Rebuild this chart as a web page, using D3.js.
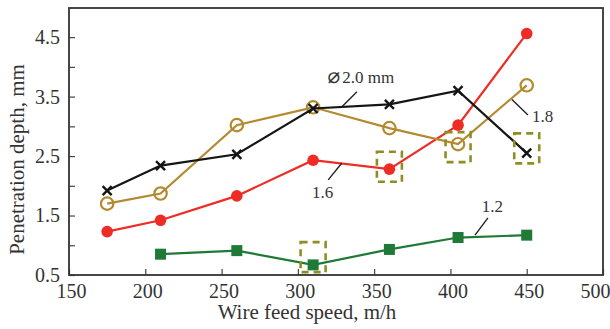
<!DOCTYPE html>
<html><head><meta charset="utf-8">
<script src="https://cdn.jsdelivr.net/npm/d3@7"></script>
<style>body{margin:0;background:#fff}svg{display:block}text{font-family:"Liberation Serif","Times New Roman",serif;fill:#333}</style>
</head><body><svg id="c" width="610" height="329"></svg>
<script>
const speeds = [175, 210, 260, 310, 360, 405, 450];
const d20 = [1.92, 2.34, 2.53, 3.30, 3.37, 3.60, 2.55];
const d18 = [1.70, 1.87, 3.02, 3.32, 2.97, 2.70, 3.69];
const d16 = [1.23, 1.42, 1.83, 2.43, 2.28, 3.02, 4.56];
const speeds12 = [210, 260, 310, 360, 405, 450];
const d12 = [0.85, 0.91, 0.67, 0.93, 1.13, 1.17];
const xTicks = [150, 200, 250, 300, 350, 400, 450, 500];
const yTicks = [0.5, 1.5, 2.5, 3.5, 4.5];
const yMinor = [1.0, 2.0, 3.0, 4.0];
const boxX = [310, 360, 405, 450];
const boxY = [0.80, 2.32, 2.65, 2.63];
// annotations: label, text pos, leader start, leader end (data units)
const notes = [
  {t:"2.0 mm", sym:true, tx:319.5, ty:3.73, x1:338.7, y1:3.58, x2:328.9, y2:3.33},
  {t:"1.6", tx:309.2, ty:1.80, x1:328.7, y1:2.38, x2:319.9, y2:2.10},
  {t:"1.8", tx:453.4, ty:3.08, x1:440.3, y1:3.45, x2:450.8, y2:3.19},
  {t:"1.2", tx:420.6, ty:1.56, x1:424.6, y1:1.46, x2:416.1, y2:1.17}
];

const L=69, R=603, T=8, B=275;
const svg = d3.select("#c");
const x = d3.scaleLinear().domain([150,500]).range([L,R]);
const y = d3.scaleLinear().domain([0.5,4.99]).range([B,T]);

const gx = svg.append("g").attr("transform",`translate(0,${B})`)
  .call(d3.axisBottom(x).tickValues(xTicks).tickSize(-6).tickPadding(9).tickFormat(d3.format("d")));
gx.attr("font-family",null).attr("font-size",null);
gx.select(".domain").remove();
gx.selectAll("line").attr("stroke","#444").attr("stroke-width",1.2);
gx.selectAll("text").attr("font-size",20).attr("fill","#333").attr("dx",d=>d===500?"-8":"2");

const gy = svg.append("g").attr("transform",`translate(${L},0)`)
  .call(d3.axisLeft(y).tickValues(yTicks).tickSize(-6).tickPadding(9).tickFormat(d3.format(".1f")));
gy.attr("font-family",null).attr("font-size",null);
gy.select(".domain").remove();
gy.selectAll("line").attr("stroke","#444").attr("stroke-width",1.2);
gy.selectAll("text").attr("font-size",20).attr("fill","#333");
const gym = svg.append("g").attr("transform",`translate(${L},0)`)
  .call(d3.axisLeft(y).tickValues(yMinor).tickSize(-6).tickFormat(""));
gym.select(".domain").remove();
gym.selectAll("line").attr("stroke","#444").attr("stroke-width",1.2);

svg.append("rect").attr("x",L).attr("y",T).attr("width",R-L).attr("height",B-T)
  .attr("fill","none").attr("stroke","#333").attr("stroke-width",1.8);

const line = d3.line().x(d=>x(d[0])).y(d=>y(d[1]));
function series(xs, ys, color){
  const pts = xs.map((v,i)=>[v,ys[i]]);
  svg.append("path").datum(pts).attr("d",line).attr("fill","none").attr("stroke",color).attr("stroke-width",2.2);
  return pts;
}
const cBlack="#151515", cOr="#b38a30", cRed="#ee2b24", cGreen="#1f7a38", cBox="#8f8d24";

const p12 = series(speeds12, d12, cGreen);
svg.selectAll(".sq").data(p12).join("rect").attr("x",d=>x(d[0])-5.5).attr("y",d=>y(d[1])-5.5)
  .attr("width",11).attr("height",11).attr("fill",cGreen);

const p16 = series(speeds, d16, cRed);
svg.selectAll(".rc").data(p16).join("circle").attr("cx",d=>x(d[0])).attr("cy",d=>y(d[1])).attr("r",5.8).attr("fill",cRed);

const p18 = series(speeds, d18, cOr);
svg.selectAll(".oc").data(p18).join("circle").attr("cx",d=>x(d[0])).attr("cy",d=>y(d[1])).attr("r",6.2)
  .attr("fill","none").attr("stroke",cOr).attr("stroke-width",2.2);

const p20 = series(speeds, d20, cBlack);
const s=4.5;
svg.selectAll(".xm").data(p20).join("path")
  .attr("d",d=>{const cx=x(d[0]),cy=y(d[1]);return `M${cx-s},${cy-s}L${cx+s},${cy+s}M${cx-s},${cy+s}L${cx+s},${cy-s}`;})
  .attr("stroke",cBlack).attr("stroke-width",2.4);

svg.selectAll(".bx").data(boxX.map((v,i)=>[v,boxY[i]])).join("rect")
  .attr("x",d=>x(d[0])-12.5).attr("y",d=>y(d[1])-15).attr("width",25).attr("height",30)
  .attr("fill","none").attr("stroke",cBox).attr("stroke-width",2.6).attr("stroke-dasharray","7,5");

notes.forEach(n=>{
  svg.append("line").attr("x1",x(n.x1)).attr("y1",y(n.y1)).attr("x2",x(n.x2)).attr("y2",y(n.y2))
    .attr("stroke","#222").attr("stroke-width",1.4);
  const t = svg.append("text").attr("x",x(n.tx)).attr("y",y(n.ty)).attr("font-size",17);
  if(n.sym){ t.append("tspan").attr("font-size",21).style("font-family","DejaVu Sans").text("\u2300"); t.append("tspan").attr("dx",2).text(n.t); }
  else t.text(n.t);
});

svg.append("text").attr("x",(L+R)/2-29).attr("y",319).attr("text-anchor","middle").attr("font-size",21).text("Wire feed speed, m/h");
svg.append("text").attr("transform",`translate(24,${(T+B)/2+18}) rotate(-90)`).attr("text-anchor","middle").attr("font-size",21).text("Penetration depth, mm");
</script></body></html>
